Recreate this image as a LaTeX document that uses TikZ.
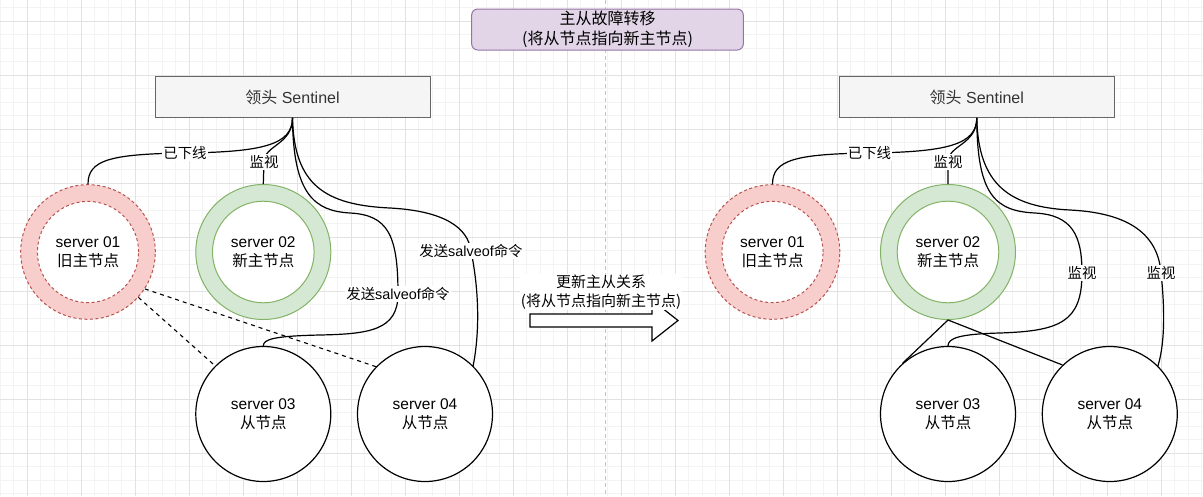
\documentclass[tikz,border=0pt]{standalone}
\usepackage{fontspec}
\setmainfont{Liberation Sans}
\newfontfamily\zhfont{Noto Sans CJK SC}
\newcommand{\zh}[1]{{\zhfont #1}}
\definecolor{gridmin}{HTML}{F3F3F3}
\definecolor{gridmaj}{HTML}{E2E2E2}
\definecolor{pagebrk}{HTML}{C4C4C4}
\definecolor{redfill}{HTML}{F8CECC}
\definecolor{redline}{HTML}{B85450}
\definecolor{greenfill}{HTML}{D5E8D4}
\definecolor{greenline}{HTML}{82B366}
\definecolor{purplefill}{HTML}{E1D5E7}
\definecolor{purpleline}{HTML}{9673A6}
\definecolor{greyfill}{HTML}{F5F5F5}
\definecolor{greyline}{HTML}{666666}
\definecolor{greytext}{HTML}{333333}
\begin{document}
\begin{tikzpicture}[x=1pt,y=-1pt,
  gridminor/.style={draw=gridmin, line width=0.8pt},
  gridmajor/.style={draw=gridmaj, line width=0.9pt},
  pagebreak/.style={draw=pagebrk, line width=0.9pt, dash pattern=on 4pt off 3pt},
  titlebox/.style={draw=purpleline, fill=purplefill, line width=1pt, rounded corners=6pt,
    minimum width=271.6pt, minimum height=41pt, inner sep=0pt, align=center,
    font=\fontsize{16}{20}\selectfont},
  sentbox/.style={draw=greyline, fill=greyfill, line width=1pt, minimum width=275pt,
    minimum height=40.6pt, inner sep=0pt, text=greytext, font=\fontsize{16}{19}\selectfont},
  ringred/.style={circle, draw=redline, fill=redfill, line width=1pt, dash pattern=on 3pt off 2.5pt,
    minimum size=134.6pt, inner sep=0pt},
  innerred/.style={circle, draw=redline, fill=white, line width=1pt, dash pattern=on 3pt off 2.5pt,
    minimum size=101.2pt, inner sep=0pt, align=center, font=\fontsize{15.5}{19}\selectfont},
  ringgreen/.style={circle, draw=greenline, fill=greenfill, line width=1pt,
    minimum size=135pt, inner sep=0pt},
  innergreen/.style={circle, draw=greenline, fill=white, line width=1pt,
    minimum size=101.6pt, inner sep=0pt, align=center, font=\fontsize{15.5}{19}\selectfont},
  plaincirc/.style={circle, draw=black, fill=white, line width=1.2pt,
    minimum size=135pt, inner sep=0pt, align=center, font=\fontsize{15.5}{19}\selectfont},
  conn/.style={draw=black, line width=1.2pt},
  dashconn/.style={draw=black, line width=1.1pt, dash pattern=on 4pt off 4pt},
  lbl/.style={fill=white, inner sep=1pt, font=\fontsize{14.4}{17}\selectfont},
  midlbl/.style={fill=white, inner sep=1pt, align=center, font=\fontsize{15}{19}\selectfont},
  bigarrow/.style={draw=black, fill=white, line width=1.2pt}
]
\useasboundingbox (0,0) rectangle (1203,496);
\fill[white] (0,0) rectangle (1203,496);
% background grid
\foreach \i in {0,...,89} \draw[gridminor] ({0.3+13.5*\i},0) -- ({0.3+13.5*\i},496);
\foreach \i in {0,...,36} \draw[gridminor] (0,{7.5+13.5*\i}) -- (1203,{7.5+13.5*\i});
\foreach \i in {0,...,21} \draw[gridmajor] ({27.3+54*\i},0) -- ({27.3+54*\i},496);
\foreach \i in {0,...,8} \draw[gridmajor] (0,{21+54*\i}) -- (1203,{21+54*\i});
\draw[pagebreak] (605.7,0) -- (605.7,496);

% title
\node[titlebox] (title) at (607.5,29.5) {\zh{主从故障转移}\\\zh{(将从节点指向新主节点)}};

% ---------- left ----------
\node[sentbox] (L) at (292.5,97) {\zh{领头} Sentinel};
\node[ringred] (s1) at (88,252) {};
\node[innerred] (s1i) at (s1.center) {server 01\\\zh{旧主节点}};
\node[ringgreen] (s2) at (263.3,252) {};
\node[innergreen] (s2i) at (s2.center) {server 02\\\zh{新主节点}};
\node[plaincirc] (s3) at (263.3,414) {server 03\\\zh{从节点}};
\node[plaincirc] (s4) at (425,414) {server 04\\\zh{从节点}};

\draw[conn] (L.south) .. controls (292.5,145) and (262,152) .. (185,153)
  node[lbl] (la) {\zh{已下线}}
  .. controls (110,154) and (88,160) .. (s1.north);
\draw[conn] (L.south) .. controls (292.5,145) and (264,145) .. (264,162)
  node[lbl] (lb) {\zh{监视}} -- (s2.north);
\draw[conn] (L.south) .. controls (293,195) and (315,211) .. (350,213)
  .. controls (388,215) and (398,235) .. (398,294)
  node[lbl] (lc) {\zh{发送}salveof\zh{命令}}
  .. controls (398,330) and (370,334) .. (320,335)
  .. controls (275,336) and (263.3,339) .. (s3.north);
\draw[conn] (L.south) .. controls (294,185) and (325,205) .. (390,208)
  .. controls (445,211) and (468,228) .. (471,251)
  node[lbl] (ld) {\zh{发送}salveof\zh{命令}}
  .. controls (476,275) and (482,320) .. (s4.45);
\draw[dashconn] (s1.-42.8) -- (s3.135);
\draw[dashconn] (s1.-33.7) -- (s4.136);

% ---------- middle arrow ----------
\draw[bigarrow] (530,314) -- (652,314) -- (652,300) -- (678,320.5) -- (652,341) -- (652,327) -- (530,327) -- cycle;
\node[midlbl] (mid) at (601,292) {\zh{更新主从关系}\\\zh{(将从节点指向新主节点)}};

% ---------- right ----------
\node[sentbox] (R) at (976.8,97) {\zh{领头} Sentinel};
\node[ringred] (t1) at (772.5,252) {};
\node[innerred] (t1i) at (t1.center) {server 01\\\zh{旧主节点}};
\node[ringgreen] (t2) at (948,252) {};
\node[innergreen] (t2i) at (t2.center) {server 02\\\zh{新主节点}};
\node[plaincirc] (t3) at (948,414) {server 03\\\zh{从节点}};
\node[plaincirc] (t4) at (1109.8,414) {server 04\\\zh{从节点}};

\draw[conn] (R.south) .. controls (976.8,145) and (946,152) .. (869.5,153)
  node[lbl] (ra) {\zh{已下线}}
  .. controls (795,154) and (772.5,160) .. (t1.north);
\draw[conn] (R.south) .. controls (976.8,145) and (948,145) .. (948,162)
  node[lbl] (rb) {\zh{监视}} -- (t2.north);
\draw[conn] (R.south) .. controls (977,195) and (995,211) .. (1035,213)
  .. controls (1072,215) and (1082,235) .. (1082,273)
  node[lbl] (rc) {\zh{监视}}
  .. controls (1082,322) and (1060,331) .. (1000,333)
  .. controls (960,334) and (948,338) .. (t3.north);
\draw[conn] (R.south) .. controls (978,185) and (1010,207) .. (1070,210)
  .. controls (1130,213) and (1158,235) .. (1161,273)
  node[lbl] (rd) {\zh{监视}}
  .. controls (1164,300) and (1166,340) .. (t4.45);
\draw[conn] (t2.south) -- (t3.132);
\draw[conn] (t2.south) -- (t4.134.5);
\end{tikzpicture}
\end{document}
